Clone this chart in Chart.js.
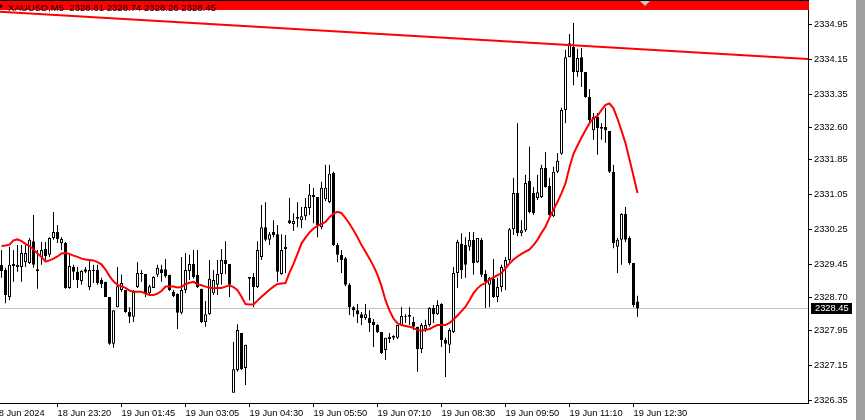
<!DOCTYPE html>
<html>
<head>
<meta charset="utf-8">
<script src="https://cdn.jsdelivr.net/npm/chart.js@4.4.1/dist/chart.umd.min.js"></script>
<style>
  html, body { margin: 0; padding: 0; background: #fff; }
  #wrap { position: relative; width: 865px; height: 420px; overflow: hidden; }
  #chart { position: absolute; left: 0; top: 0; }
  #topLine { position: absolute; left: 0; top: 0; width: 809px; height: 1px; background: #000; }
  #band { position: absolute; left: 0; top: 1px; width: 809px; height: 9px; background: #ff0000; }
  #caption { position: absolute; left: 8px; top: 2px; font: 9.6px "Liberation Sans", Arial, sans-serif; line-height: 12px; color: #000; white-space: pre; }
  #arrow { position: absolute; left: 0; top: 4px; width: 0; height: 0; border-top: 2px solid transparent; border-bottom: 2px solid transparent; border-left: 3px solid #000; }
  #shift { position: absolute; left: 640px; top: 1px; width: 0; height: 0; border-left: 5px solid transparent; border-right: 5px solid transparent; border-top: 5px solid #c8c8c8; }
  #scroll { position: absolute; left: 856px; top: 0; width: 9px; height: 420px; background: #a0a0a0; }
</style>
</head>
<body>
<div id="wrap">
  <canvas id="chart" width="856" height="420"></canvas>
  <div id="topLine"></div>
  <div id="band"></div>
  <div id="arrow"></div>
  <div id="caption">XAUUSD,M5  2328.61 2328.74 2328.26 2328.45</div>
  <div id="shift"></div>
  <div id="scroll"></div>
</div>
<script>
// XAUUSD M5 candles, one entry per bar (bar index = position in the arrays)
const opens = [
  2329.45, 2329.33, 2328.71, 2329.47, 2329.40, 2329.40, 2329.51, 2329.49, 2329.99, 2329.35,
  2329.63, 2329.81, 2329.68, 2330.06, 2330.20, 2329.95, 2329.95, 2328.92, 2329.40, 2329.29,
  2329.08, 2329.35, 2328.94, 2329.33, 2329.33, 2329.10, 2329.06, 2328.71, 2327.64, 2328.48,
  2328.87, 2328.87, 2328.37, 2328.26, 2328.94, 2329.26, 2329.24, 2328.80, 2328.92, 2329.22,
  2329.35, 2329.35, 2329.22, 2328.83, 2328.78, 2328.35, 2328.87, 2329.31, 2329.47, 2329.22,
  2328.90, 2328.14, 2328.32, 2328.80, 2328.99, 2329.24, 2329.56, 2329.47, 2326.52, 2327.04,
  2327.89, 2327.09, 2329.13, 2329.17, 2328.94, 2329.63, 2330.31, 2330.02, 2330.20, 2330.15,
  2329.24, 2329.81, 2330.47, 2330.38, 2330.54, 2330.47, 2330.56, 2330.75, 2331.05, 2331.00,
  2330.31, 2330.95, 2330.88, 2331.55, 2329.90, 2329.68, 2329.60, 2328.99, 2328.48, 2328.41,
  2328.32, 2328.23, 2328.23, 2328.14, 2328.07, 2327.91, 2327.50, 2327.75, 2327.78, 2327.78,
  2328.07, 2328.26, 2328.26, 2328.14, 2328.03, 2327.52, 2327.98, 2328.07, 2328.46, 2328.32,
  2328.55, 2327.73, 2327.62, 2327.91, 2329.26, 2329.93, 2329.90, 2329.86, 2330.02, 2329.51,
  2330.02, 2329.24, 2328.99, 2329.13, 2328.71, 2328.94, 2329.38, 2329.56, 2330.26, 2331.09,
  2330.17, 2330.24, 2331.37, 2331.09, 2330.98, 2331.00, 2331.67, 2331.25, 2330.56, 2331.58,
  2331.99, 2332.99, 2334.20, 2334.43, 2333.86, 2334.20, 2333.86, 2333.29, 2332.53, 2332.83,
  2332.60, 2332.60, 2332.51, 2331.58, 2329.86, 2330.02, 2330.61, 2330.06, 2329.49, 2328.61
];
const highs = [
  2329.79, 2329.38, 2329.86, 2329.79, 2329.90, 2329.90, 2329.90, 2330.06, 2330.59, 2329.79,
  2329.97, 2329.97, 2330.08, 2330.66, 2330.36, 2330.08, 2329.97, 2329.72, 2329.45, 2329.40,
  2329.33, 2329.40, 2329.56, 2329.45, 2329.45, 2329.15, 2329.06, 2328.71, 2328.41, 2329.40,
  2329.22, 2328.87, 2328.48, 2328.87, 2329.51, 2329.33, 2329.24, 2328.99, 2329.19, 2329.45,
  2329.45, 2329.58, 2329.22, 2328.87, 2328.80, 2329.63, 2329.72, 2329.68, 2329.79, 2329.79,
  2328.90, 2328.62, 2329.56, 2329.33, 2329.56, 2329.81, 2329.99, 2329.47, 2327.68, 2328.09,
  2327.89, 2327.62, 2329.17, 2329.26, 2329.99, 2330.82, 2330.88, 2330.20, 2330.47, 2330.36,
  2330.15, 2330.13, 2330.98, 2330.63, 2330.88, 2330.77, 2330.98, 2331.30, 2331.21, 2331.00,
  2331.35, 2331.74, 2331.74, 2331.58, 2329.95, 2329.79, 2329.63, 2329.03, 2328.50, 2328.55,
  2328.37, 2328.55, 2328.41, 2328.21, 2328.09, 2327.91, 2327.78, 2327.89, 2327.84, 2328.07,
  2328.48, 2328.32, 2328.48, 2328.26, 2328.03, 2328.12, 2328.19, 2328.48, 2328.53, 2328.64,
  2328.57, 2327.78, 2328.00, 2329.40, 2330.02, 2330.17, 2330.08, 2330.20, 2330.20, 2330.06,
  2330.06, 2329.33, 2329.17, 2329.58, 2329.15, 2329.45, 2329.63, 2330.29, 2331.44, 2332.69,
  2330.47, 2331.51, 2332.15, 2331.23, 2331.51, 2331.74, 2332.03, 2331.44, 2331.69, 2332.01,
  2333.04, 2334.37, 2334.73, 2334.98, 2334.39, 2334.41, 2333.86, 2333.47, 2332.92, 2332.92,
  2332.69, 2333.04, 2332.51, 2331.74, 2330.06, 2330.63, 2330.77, 2330.10, 2329.49, 2328.74
];
const lows = [
  2329.15, 2328.57, 2328.64, 2329.06, 2329.29, 2329.06, 2329.40, 2329.47, 2329.38, 2328.90,
  2329.45, 2329.56, 2329.63, 2330.02, 2329.95, 2329.79, 2328.90, 2328.90, 2329.10, 2328.92,
  2328.99, 2329.26, 2328.87, 2329.03, 2328.99, 2328.92, 2328.71, 2327.62, 2327.55, 2328.48,
  2328.83, 2328.35, 2328.12, 2328.14, 2328.92, 2329.06, 2328.71, 2328.78, 2328.92, 2329.17,
  2329.06, 2329.15, 2328.85, 2328.71, 2327.98, 2328.32, 2328.80, 2329.10, 2329.13, 2328.92,
  2328.12, 2328.03, 2328.30, 2328.76, 2328.76, 2328.99, 2329.24, 2328.71, 2326.52, 2327.00,
  2327.04, 2326.70, 2328.64, 2328.48, 2328.92, 2329.56, 2329.99, 2329.90, 2330.08, 2329.06,
  2329.22, 2329.26, 2330.38, 2330.22, 2330.31, 2330.29, 2330.47, 2330.59, 2330.40, 2330.08,
  2330.26, 2330.91, 2330.86, 2329.88, 2329.51, 2329.26, 2328.96, 2328.30, 2328.26, 2328.12,
  2328.07, 2328.19, 2327.91, 2327.57, 2327.89, 2327.41, 2327.27, 2327.66, 2327.73, 2327.75,
  2328.05, 2328.12, 2328.07, 2327.96, 2327.00, 2327.43, 2327.91, 2328.03, 2328.12, 2328.30,
  2327.57, 2326.88, 2327.43, 2327.89, 2328.92, 2329.13, 2329.15, 2329.77, 2329.22, 2329.49,
  2329.17, 2328.46, 2328.48, 2328.69, 2328.60, 2328.83, 2328.87, 2329.51, 2330.13, 2330.10,
  2330.10, 2330.20, 2330.63, 2330.59, 2330.93, 2330.98, 2331.21, 2330.54, 2330.54, 2331.55,
  2331.97, 2332.69, 2334.20, 2333.56, 2333.75, 2333.52, 2333.27, 2332.69, 2332.31, 2331.97,
  2332.31, 2332.24, 2331.55, 2329.83, 2329.26, 2329.45, 2329.97, 2329.45, 2328.48, 2328.26
];
const closes = [
  2329.31, 2328.76, 2329.45, 2329.42, 2329.45, 2329.72, 2329.72, 2330.02, 2329.45, 2329.31,
  2329.79, 2329.65, 2330.06, 2330.20, 2330.04, 2330.04, 2328.92, 2329.42, 2329.29, 2329.10,
  2329.31, 2329.29, 2329.33, 2329.31, 2329.03, 2329.01, 2328.71, 2327.64, 2328.41, 2328.96,
  2329.03, 2328.37, 2328.26, 2328.83, 2329.26, 2329.24, 2328.80, 2328.96, 2329.17, 2329.38,
  2329.26, 2329.19, 2328.87, 2328.73, 2328.35, 2328.87, 2329.33, 2329.47, 2329.17, 2328.94,
  2328.14, 2328.32, 2329.13, 2329.10, 2329.24, 2329.56, 2329.47, 2328.99, 2327.06, 2327.96,
  2327.06, 2327.62, 2329.17, 2328.94, 2329.79, 2330.31, 2330.02, 2330.15, 2330.13, 2329.29,
  2329.79, 2329.86, 2330.40, 2330.45, 2330.50, 2330.56, 2330.77, 2331.05, 2331.00, 2330.36,
  2331.21, 2331.21, 2331.53, 2329.90, 2329.68, 2329.56, 2328.99, 2328.48, 2328.41, 2328.32,
  2328.23, 2328.32, 2328.12, 2328.07, 2327.91, 2327.43, 2327.78, 2327.80, 2327.82, 2328.07,
  2328.28, 2328.28, 2328.30, 2328.03, 2327.52, 2328.07, 2328.07, 2328.46, 2328.32, 2328.53,
  2327.73, 2327.64, 2327.96, 2329.26, 2329.97, 2329.33, 2329.45, 2330.02, 2329.49, 2330.06,
  2329.22, 2329.06, 2329.15, 2328.71, 2328.94, 2329.40, 2329.56, 2330.26, 2331.09, 2330.17,
  2330.24, 2331.32, 2330.66, 2330.63, 2331.11, 2331.67, 2331.23, 2330.59, 2331.58, 2331.83,
  2332.99, 2334.20, 2334.52, 2333.86, 2334.18, 2333.86, 2333.29, 2332.76, 2332.83, 2332.58,
  2332.56, 2332.53, 2331.58, 2329.95, 2330.02, 2330.61, 2330.02, 2329.49, 2328.53, 2328.45
];
// moving average line, one value per bar
const maValues = [
  2329.88, 2329.89, 2329.91, 2330.01, 2330.03, 2329.99, 2329.93, 2329.88, 2329.80, 2329.71,
  2329.63, 2329.52, 2329.55, 2329.59, 2329.64, 2329.71, 2329.72, 2329.70, 2329.66, 2329.63,
  2329.59, 2329.57, 2329.56, 2329.55, 2329.51, 2329.46, 2329.34, 2329.19, 2329.07, 2328.99,
  2328.96, 2328.92, 2328.86, 2328.83, 2328.83, 2328.83, 2328.79, 2328.76, 2328.76, 2328.79,
  2328.85, 2328.95, 2328.95, 2328.95, 2328.93, 2328.94, 2329.01, 2329.04, 2329.06, 2329.00,
  2328.98, 2328.95, 2328.93, 2328.91, 2328.92, 2328.92, 2328.95, 2328.98, 2328.94, 2328.87,
  2328.72, 2328.55, 2328.54, 2328.54, 2328.63, 2328.72, 2328.80, 2328.88, 2328.95, 2329.01,
  2329.02, 2329.03, 2329.27, 2329.47, 2329.70, 2329.94, 2330.07, 2330.19, 2330.28, 2330.34,
  2330.38, 2330.43, 2330.54, 2330.62, 2330.66, 2330.63, 2330.52, 2330.39, 2330.24, 2330.08,
  2329.90, 2329.75, 2329.59, 2329.42, 2329.22, 2328.96, 2328.64, 2328.40, 2328.22, 2328.11,
  2328.07, 2328.05, 2328.03, 2328.00, 2327.96, 2327.94, 2327.96, 2327.98, 2328.03, 2328.07,
  2328.07, 2328.07, 2328.12, 2328.20, 2328.29, 2328.39, 2328.49, 2328.64, 2328.80, 2328.91,
  2328.99, 2329.03, 2329.11, 2329.16, 2329.21, 2329.26, 2329.37, 2329.48, 2329.57, 2329.64,
  2329.70, 2329.75, 2329.80, 2329.90, 2330.02, 2330.18, 2330.32, 2330.53, 2330.71, 2330.89,
  2331.09, 2331.31, 2331.68, 2331.99, 2332.18, 2332.36, 2332.53, 2332.69, 2332.80, 2332.86,
  2332.99, 2333.11, 2333.14, 2333.03, 2332.79, 2332.52, 2332.23, 2331.86, 2331.48, 2331.09
];

// trend line drawn across the whole window
const trendBars = [-0.375, 201.625];
const trendPrices = [2335.24, 2334.16];

// time axis labels and the bar they sit on
const timeTickBars = [-2, 14, 30, 46, 62, 78, 94, 110, 126, 142, 158];
const timeTickLabels = [
  '18 Jun 2024', '18 Jun 23:20', '19 Jun 01:45', '19 Jun 03:05', '19 Jun 04:30',
  '19 Jun 05:50', '19 Jun 07:10', '19 Jun 08:30', '19 Jun 09:50', '19 Jun 11:10', '19 Jun 12:30'
];

// price axis labels
const priceTicks = [
  2334.95, 2334.15, 2333.35, 2332.60, 2331.85, 2331.05,
  2330.25, 2329.45, 2328.70, 2327.95, 2327.15, 2326.35
];

const AXIS_FONT = { family: '"Liberation Sans", Arial, sans-serif', size: 9.3 };

function buildCandleSets() {
  const wicks = [];
  const bodies = [];
  opens.forEach((open, i) => {
    wicks.push({ x: i, y: [lows[i], highs[i]] });
    bodies.push({ x: i, y: [open, closes[i]] });
  });
  return { wicks, bodies };
}

const priceTagPlugin = {
  id: 'priceTag',
  afterDraw(chart) {
    const last = closes[closes.length - 1];
    const y = chart.scales.y.getPixelForValue(last);
    const left = chart.chartArea.right;
    const ctx = chart.ctx;
    ctx.save();
    ctx.fillStyle = '#000';
    ctx.fillRect(left + 3, Math.round(y) - 5, 41, 11);
    ctx.fillStyle = '#fff';
    ctx.font = `${AXIS_FONT.size}px ${AXIS_FONT.family}`;
    ctx.textBaseline = 'middle';
    ctx.textAlign = 'left';
    ctx.fillText(last.toFixed(2), left + 7, Math.round(y) + 0.5);
    ctx.restore();
  }
};

function renderChart() {
  const { wicks, bodies } = buildCandleSets();
  const lastBar = opens.length - 1;

  Chart.defaults.color = '#000';
  Chart.defaults.font.family = AXIS_FONT.family;
  Chart.defaults.font.size = AXIS_FONT.size;

  new Chart(document.getElementById('chart').getContext('2d'), {
    type: 'bar',
    data: {
      datasets: [
        {
          type: 'line',
          label: 'trend',
          data: trendBars.map((x, i) => ({ x, y: trendPrices[i] })),
          borderColor: '#ff0000',
          borderWidth: 2,
          pointRadius: 0,
          order: -2
        },
        {
          type: 'line',
          label: 'MA',
          data: maValues.map((v, i) => ({ x: i, y: v })),
          borderColor: '#ff0000',
          borderWidth: 2,
          pointRadius: 0,
          tension: 0,
          order: -1
        },
        {
          label: 'body',
          data: bodies,
          grouped: false,
          barThickness: 3,
          borderWidth: 1,
          borderSkipped: false,
          inflateAmount: 0,
          borderColor: '#000',
          backgroundColor: ctx => {
            const i = ctx.dataIndex;
            return closes[i] >= opens[i] ? '#fff' : '#000';
          },
          order: 0
        },
        {
          label: 'wick',
          data: wicks,
          grouped: false,
          barThickness: 1,
          borderWidth: 0,
          inflateAmount: 0,
          backgroundColor: '#000',
          order: 1
        },
        {
          type: 'line',
          label: 'bid',
          data: [
            { x: trendBars[0], y: closes[lastBar] },
            { x: trendBars[1], y: closes[lastBar] }
          ],
          borderColor: '#c0c0c0',
          borderWidth: 1,
          pointRadius: 0,
          order: 5
        }
      ]
    },
    options: {
      responsive: false,
      animation: false,
      events: [],
      layout: { padding: 0 },
      plugins: {
        legend: { display: false },
        tooltip: { enabled: false }
      },
      scales: {
        x: {
          type: 'linear',
          min: -0.375,
          max: 201.625,
          offset: false,
          grid: {
            offset: false,
            drawOnChartArea: false,
            drawTicks: true,
            tickLength: 4,
            color: '#000'
          },
          border: { color: '#000', width: 1 },
          ticks: {
            autoSkip: false,
            maxRotation: 0,
            align: 'start',
            padding: 1,
            color: '#000',
            font: AXIS_FONT,
            callback: value => {
              const idx = timeTickBars.indexOf(value);
              return idx >= 0 ? timeTickLabels[idx] : '';
            }
          },
          afterBuildTicks: axis => {
            axis.ticks = timeTickBars.map(value => ({ value }));
          },
          afterFit: axis => {
            axis.height = 17;
            axis.paddingLeft = 0;
            axis.paddingRight = 0;
          }
        },
        y: {
          type: 'linear',
          position: 'right',
          min: 2326.287,
          max: 2335.508,
          grid: {
            drawOnChartArea: false,
            drawTicks: true,
            tickLength: 4,
            color: '#000'
          },
          border: { color: '#000', width: 1 },
          ticks: {
            autoSkip: false,
            padding: 2,
            color: '#000',
            font: AXIS_FONT,
            callback: value => value.toFixed(2)
          },
          afterBuildTicks: axis => {
            axis.ticks = priceTicks.map(value => ({ value }));
          },
          afterFit: axis => {
            axis.width = 48;
            axis.paddingTop = 0;
            axis.paddingBottom = 0;
          }
        }
      }
    },
    plugins: [priceTagPlugin]
  });
}

renderChart();
</script>
</body>
</html>
